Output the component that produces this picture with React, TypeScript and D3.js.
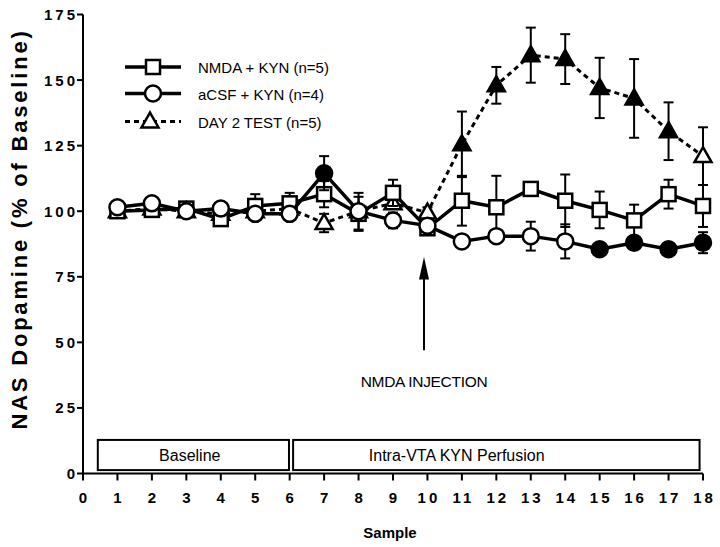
import React from "react";
import * as d3 from "d3";

const samples = [1, 2, 3, 4, 5, 6, 7, 8, 9, 10, 11, 12, 13, 14, 15, 16, 17, 18];
const nmdaMean = [100, 100.5, 101, 97, 102, 103, 106.5, 99, 107, 93.5, 104, 101.5, 108.5, 104, 100.5, 96.5, 106.5, 102];
const nmdaSem = [1.5, 1, 1.5, 2, 4.5, 4, 5, 6.5, 5, 2, 9.5, 12, 1.5, 10, 7, 6, 5.5, 8];
const acsfMean = [101.5, 103, 100, 101, 99, 99, 114.5, 100, 96.5, 94.5, 88.5, 90.5, 90.5, 88.5, 85.5, 88, 85.5, 88];
const acsfSem = [1, 1, 1, 1, 1, 1.5, 6.5, 7, 3, 2.5, 2, 1.5, 5.5, 6.5, 1.5, 1.5, 1, 4];
const acsfFilled = [false, false, false, false, false, false, true, false, false, false, false, false, false, false, true, true, true, true];
const day2Mean = [100, 101, 100, 99, 100, 101, 95.5, 100, 103, 99.5, 125.5, 148, 159.5, 158, 147, 143, 130.5, 121];
const day2Sem = [1, 1, 1, 1, 1, 1, 3.5, 2, 2, 2, 12.5, 7, 10.5, 9.5, 11.5, 15, 11, 11];
const day2Filled = [false, false, false, false, false, false, false, false, false, false, true, true, true, true, true, true, true, false];

const xTicks = d3.range(0, 19);
const yTicks = [0, 25, 50, 75, 100, 125, 150, 175];
const legendLabels = ["NMDA + KYN (n=5)", "aCSF + KYN (n=4)", "DAY 2 TEST (n=5)"];
const phaseLabels = ["Baseline", "Intra-VTA KYN Perfusion"];
const phaseStart = [0.43, 6.1];
const phaseEnd = [5.98, 17.9];
const phaseLabelAt = [3.1, 10.85];
const injectionSample = 9.9;
const injectionLabel = "NMDA INJECTION";

const FONT = "'Liberation Sans', Arial, Helvetica, sans-serif";

export default function App() {
  const x = d3.scaleLinear().domain([0, 18]).range([83, 703]);
  const y = d3.scaleLinear().domain([0, 175]).range([473.5, 14.5]);

  const line = d3
    .line<[number, number]>()
    .x((d) => x(d[0]))
    .y((d) => y(d[1]));

  const pts = (m: number[]) => samples.map((s, i) => [s, m[i]] as [number, number]);

  const sq = 14;
  const cr = 8;
  const tri = (cx: number, cy: number, s = 17) => {
    const h = s * 0.88;
    return `M${cx},${cy - h * 0.6}L${cx + s / 2},${cy + h * 0.4}L${cx - s / 2},${cy + h * 0.4}Z`;
  };

  const errBars = (m: number[], e: number[], key: string) =>
    samples.map((s, i) => {
      const cx = x(s);
      const t = y(m[i] + e[i]);
      const b = y(m[i] - e[i]);
      return (
        <g key={key + i} stroke="#000" strokeWidth={2}>
          <line x1={cx} x2={cx} y1={t} y2={b} />
          <line x1={cx - 5} x2={cx + 5} y1={t} y2={t} />
          <line x1={cx - 5} x2={cx + 5} y1={b} y2={b} />
        </g>
      );
    });

  const legendY = [67, 93.5, 121.5];

  return (
    <svg width={720} height={547} style={{ position: "absolute", left: 0, top: 0, background: "#fff" }} fontFamily={FONT}>
      <rect width={720} height={547} fill="#fff" />
      {/* axes */}
      <line x1={x(0)} x2={x(0)} y1={y(175)} y2={y(0)} stroke="#000" strokeWidth={2} />
      <line x1={x(0) - 1} x2={x(18)} y1={y(0)} y2={y(0)} stroke="#000" strokeWidth={2} />
      {yTicks.map((t) => (
        <g key={"yt" + t}>
          <line x1={x(0) - 6} x2={x(0)} y1={y(t)} y2={y(t)} stroke="#000" strokeWidth={2} />
          <text x={x(0) - 8} y={y(t) + 5.5} textAnchor="end" fontSize={15} fontWeight="bold" letterSpacing={3} dx={3}>
            {t}
          </text>
        </g>
      ))}
      {xTicks.map((t) => (
        <g key={"xt" + t}>
          <line x1={x(t)} x2={x(t)} y1={y(0)} y2={y(0) + 7} stroke="#000" strokeWidth={2} />
          <text x={x(t)} y={y(0) + 29} textAnchor="middle" fontSize={15} fontWeight="bold" letterSpacing={3} dx={1.5}>
            {t}
          </text>
        </g>
      ))}
      <text
        transform={`translate(27,${229}) rotate(-90)`}
        textAnchor="middle"
        fontSize={22}
        fontWeight="bold"
        letterSpacing={2.8}
      >
        NAS Dopamine (% of Baseline)
      </text>
      <text x={390} y={538} textAnchor="middle" fontSize={15} fontWeight="bold">
        Sample
      </text>

      {/* phase boxes */}
      {phaseLabels.map((l, i) => (
        <g key={"ph" + i}>
          <rect
            x={x(phaseStart[i])}
            y={y(12.8)}
            width={x(phaseEnd[i]) - x(phaseStart[i])}
            height={y(1.3) - y(12.8)}
            fill="#fff"
            stroke="#000"
            strokeWidth={2}
          />
          <text x={x(phaseLabelAt[i])} y={y(7) + 5.5} textAnchor="middle" fontSize={16}>
            {l}
          </text>
        </g>
      ))}

      {/* injection arrow */}
      <line x1={x(injectionSample)} x2={x(injectionSample)} y1={y(80)} y2={y(47)} stroke="#000" strokeWidth={2} />
      <path
        d={`M${x(injectionSample)},${y(82.5)}L${x(injectionSample) + 5},${y(74)}L${x(injectionSample) - 5},${y(74)}Z`}
        fill="#000"
      />
      <text x={x(injectionSample)} y={y(35) + 5.5} textAnchor="middle" fontSize={15.5} letterSpacing={-0.3}>
        {injectionLabel}
      </text>

      {/* Day 2 test: dashed triangles */}
      <path d={line(pts(day2Mean)) || ""} fill="none" stroke="#000" strokeWidth={3} strokeDasharray="5,4" />
      {errBars(day2Mean, day2Sem, "d")}
      {samples.map((s, i) => (
        <path key={"tr" + i} d={tri(x(s), y(day2Mean[i]))} fill={day2Filled[i] ? "#000" : "#fff"} stroke="#000" strokeWidth={2.5} />
      ))}

      {/* NMDA + KYN: squares */}
      <path d={line(pts(nmdaMean)) || ""} fill="none" stroke="#000" strokeWidth={3.5} />
      {errBars(nmdaMean, nmdaSem, "n")}
      {samples.map((s, i) => (
        <rect key={"sq" + i} x={x(s) - sq / 2} y={y(nmdaMean[i]) - sq / 2} width={sq} height={sq} fill="#fff" stroke="#000" strokeWidth={2.5} />
      ))}

      {/* aCSF + KYN: circles */}
      <path d={line(pts(acsfMean)) || ""} fill="none" stroke="#000" strokeWidth={3.5} />
      {errBars(acsfMean, acsfSem, "a")}
      {samples.map((s, i) => (
        <circle key={"ci" + i} cx={x(s)} cy={y(acsfMean[i])} r={cr} fill={acsfFilled[i] ? "#000" : "#fff"} stroke="#000" strokeWidth={2.5} />
      ))}

      {/* legend */}
      {legendLabels.map((l, i) => (
        <g key={"lg" + i}>
          <line
            x1={125}
            x2={181}
            y1={legendY[i]}
            y2={legendY[i]}
            stroke="#000"
            strokeWidth={i === 2 ? 3 : 3.5}
            strokeDasharray={i === 2 ? "5,4" : undefined}
          />
          {i === 0 && <rect x={153 - sq / 2} y={legendY[i] - sq / 2} width={sq} height={sq} fill="#fff" stroke="#000" strokeWidth={2.5} />}
          {i === 1 && <circle cx={153} cy={legendY[i]} r={cr} fill="#fff" stroke="#000" strokeWidth={2.5} />}
          {i === 2 && <path d={tri(150, legendY[i])} fill="#fff" stroke="#000" strokeWidth={2.5} />}
          <text x={198} y={legendY[i] + 6} fontSize={15}>
            {l}
          </text>
        </g>
      ))}
    </svg>
  );
}
